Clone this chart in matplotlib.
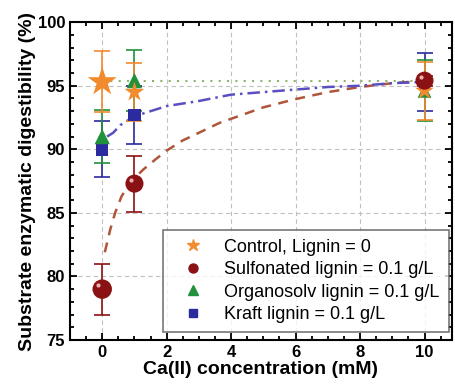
import numpy as np
import matplotlib.pyplot as plt
from matplotlib.ticker import MultipleLocator

plt.rcParams['font.family'] = ['Liberation Sans', 'DejaVu Sans']

# Ca(II) concentration (mM)
ca = [0, 1, 10]

# digestibility (%) and error bars for each lignin condition
control = [95.3, 94.5, 94.6]
control_err = [2.4, 2.3, 2.3]
sulfonated = [79.0, 87.3, 95.4]
sulfonated_err = [2.0, 2.2, 0.4]
organosolv = [91.0, 95.4, 94.6]
organosolv_err = [2.1, 2.4, 2.4]
kraft = [90.0, 92.7, 95.3]
kraft_err = [2.2, 2.3, 2.3]

# fitted trend lines
control_fit_x = [0, 10]
control_fit_y = [95.35, 95.35]
sulf_fit_x = [0.08, 0.25, 0.4, 0.6, 0.87, 1.27, 1.65, 2, 2.5, 3, 3.66, 4, 5, 6, 7, 8, 9, 10]
sulf_fit_y = [81.9, 83.7, 85.0, 86.3, 87.4, 88.4, 89.2, 89.9, 90.7, 91.3, 92.1, 92.4,
              93.3, 93.95, 94.5, 94.9, 95.2, 95.4]
kraft_fit_x = [0.15, 0.34, 0.56, 1, 1.5, 2, 3, 4, 5, 6, 7, 8, 9, 10]
kraft_fit_y = [91.0, 91.3, 91.9, 92.6, 93.0, 93.4, 93.8, 94.3, 94.5, 94.7, 94.9, 95.0,
               95.2, 95.3]

fig = plt.figure(figsize=(4.56, 3.89), dpi=100)
ax = fig.add_axes([0.1535, 0.126, 0.8375, 0.817])

ax.grid(True, which='major', color='#c0c0c0', linestyle=(0, (4, 3)), linewidth=0.8)
ax.set_axisbelow(True)

ax.plot(control_fit_x, control_fit_y, linestyle=(0, (1, 3)), color='#8db36a', lw=1.5, zorder=2)
ax.plot(sulf_fit_x, sulf_fit_y, linestyle=(0, (4, 3)), color='#b0553a', lw=1.8, zorder=2)
ax.plot(kraft_fit_x, kraft_fit_y, linestyle=(0, (5, 2, 1, 2)), color='#5a4fc0', lw=1.8, zorder=2)

orange = '#f28a2e'
red = '#8b1214'
green = '#22913c'
blue = '#2b2a9e'

ebkw = dict(fmt='none', capsize=6, elinewidth=1.2, capthick=1.2)
ax.errorbar(ca, kraft, yerr=kraft_err, ecolor=blue, zorder=3, **ebkw)
ax.errorbar(ca, organosolv, yerr=organosolv_err, ecolor=green, zorder=3, **ebkw)
ax.errorbar(ca, control, yerr=control_err, ecolor=orange, zorder=3, **ebkw)
ax.errorbar(ca, sulfonated, yerr=sulfonated_err, ecolor=red, zorder=3, **ebkw)

ax.scatter(ca, kraft, s=[9**2, 9**2, 8**2], marker='s', color=blue, zorder=4, linewidths=0)
ax.scatter(ca, organosolv, s=[11**2, 11**2, 10**2], marker='^', color=green, zorder=5, linewidths=0)
ax.scatter(ca, control, s=[22**2, 15**2, 14**2], marker='*', color=orange, zorder=6, linewidths=0)
ax.scatter(ca, sulfonated, s=[14**2, 13**2, 13**2], marker='o', color=red, zorder=7, linewidths=0)
# highlight to give the sulfonated markers a shaded look
ax.scatter(np.array(ca) - 0.12, np.array(sulfonated) + 0.3, s=9, color='#e8b0b0', zorder=8, linewidths=0)

# legend handles
h1, = ax.plot([], [], '*', color=orange, ms=9, label='Control, Lignin = 0')
h2, = ax.plot([], [], 'o', color=red, ms=6.5, label='Sulfonated lignin = 0.1 g/L')
h3, = ax.plot([], [], '^', color=green, ms=6.5, label='Organosolv lignin = 0.1 g/L')
h4, = ax.plot([], [], 's', color=blue, ms=5.5, label='Kraft lignin = 0.1 g/L')
leg = ax.legend(handles=[h1, h2, h3, h4], loc='lower right', bbox_to_anchor=(0.992, 0.025),
                fontsize=13, frameon=True, fancybox=False, edgecolor='#555555',
                borderpad=0.5, labelspacing=0.3, handletextpad=0.6, handlelength=2.3,
                borderaxespad=0)
leg.get_frame().set_linewidth(1.2)

ax.set_xlim(-1, 10.85)
ax.set_ylim(75, 100)
ax.xaxis.set_major_locator(MultipleLocator(2))
ax.xaxis.set_minor_locator(MultipleLocator(0.5))
ax.yaxis.set_major_locator(MultipleLocator(5))
ax.yaxis.set_minor_locator(MultipleLocator(1))
ax.tick_params(which='both', direction='in', top=True, right=True, width=1.3)
ax.tick_params(which='major', length=5, labelsize=12)
ax.tick_params(which='minor', length=3)
for lab in ax.get_xticklabels() + ax.get_yticklabels():
    lab.set_fontweight('bold')
for sp in ax.spines.values():
    sp.set_linewidth(1.5)

ax.set_xlabel('Ca(II) concentration (mM)', fontsize=14, fontweight='bold', labelpad=1)
ax.set_ylabel('Substrate enzymatic digestibility (%)', fontsize=14, fontweight='bold', labelpad=1)

fig.savefig('out.png', dpi=100)
